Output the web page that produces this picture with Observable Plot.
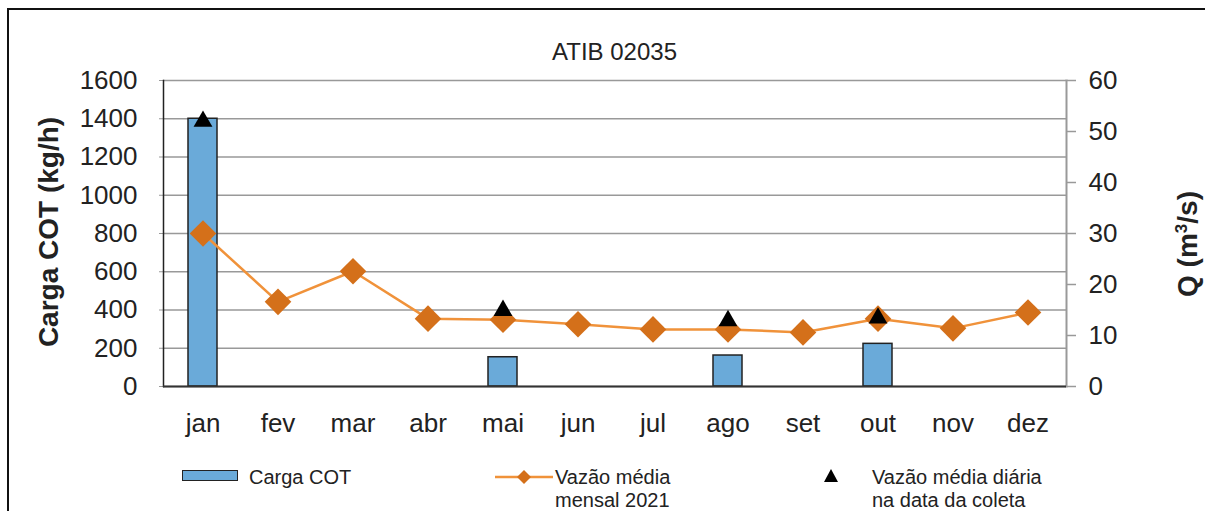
<!DOCTYPE html>
<html>
<head>
<meta charset="utf-8">
<script src="https://cdn.jsdelivr.net/npm/d3@7"></script>
<script src="https://cdn.jsdelivr.net/npm/@observablehq/plot@0.6"></script>
<style>
  html, body { margin: 0; padding: 0; background: #fff; }
  body { width: 1213px; height: 511px; overflow: hidden; position: relative; font-family: "Liberation Sans", Arial, sans-serif; color: #222; }
  #frame { position: absolute; left: 7px; top: 8px; width: 1196px; height: 520px; border-left: 2px solid #111; border-top: 2px solid #111; }
  #chart { position: absolute; left: 0; top: 0; }
  .abs { position: absolute; white-space: nowrap; }
  #title { left: 163px; width: 903px; top: 38px; text-align: center; font-size: 24px; line-height: 28px; }
  .ytitle { font-weight: bold; font-size: 28px; line-height: 32px; transform: translate(-50%, -50%) rotate(-90deg); }
  .leg { font-size: 20px; line-height: 23px; }
</style>
</head>
<body>
<div id="frame"></div>
<div id="chart"></div>
<div id="title" class="abs">ATIB 02035</div>
<div class="abs ytitle" style="left:49px; top:232px;">Carga COT (kg/h)</div>
<div class="abs ytitle" style="left:1188px; top:244px;">Q (m<sup style="font-size:17px; line-height:0">3</sup>/s)</div>
<div id="legend"></div>
<script>
const months = ["jan","fev","mar","abr","mai","jun","jul","ago","set","out","nov","dez"];
const cargaCOT = [1400, null, null, null, 153, null, null, 162, null, 223, null, null];
const vazaoMensal = [30, 16.6, 22.6, 13.3, 13.1, 12.2, 11.2, 11.2, 10.6, 13.3, 11.4, 14.5];
const vazaoDiaria = [52, null, null, null, 14.9, null, null, 12.9, null, 13.4, null, null];
const leftTicks = [0, 200, 400, 600, 800, 1000, 1200, 1400, 1600];
const rightTicks = [0, 10, 20, 30, 40, 50, 60];
const seriesNames = ["Carga COT", "Vazão média\nmensal 2021", "Vazão média diária\nna data da coleta"];

const k = 1600 / 60;
const rows = months.map((m, i) => ({month: m, carga: cargaCOT[i], mensal: vazaoMensal[i], diaria: vazaoDiaria[i]}));

const plot = Plot.plot({
  width: 1213, height: 511,
  marginTop: 80, marginBottom: 125, marginLeft: 163, marginRight: 147,
  x: {domain: months, padding: 0},
  y: {domain: [0, 1600]},
  style: {fontFamily: "'Liberation Sans', Arial, sans-serif", fontSize: "26px", color: "#222", background: "transparent"},
  marks: [
    Plot.gridY(leftTicks, {stroke: "#999", strokeOpacity: 1, strokeWidth: 1.5}),
    Plot.axisY(leftTicks, {anchor: "left", tickSize: 4, tickPadding: 22, label: null, stroke: "#999", fill: "#222", tickFormat: d3.format("d"), fontSize: 26}),
    Plot.axisY(rightTicks.map(q => q * k), {anchor: "right", tickFormat: d => String(Math.round(d / k)), tickSize: 9, tickPadding: 13, label: null, stroke: "#999", strokeWidth: 1.5, fill: "#222", fontSize: 26}),
    Plot.axisX({tickSize: 0, tickPadding: 27, label: null, fill: "#222", fontSize: 26}),
    Plot.frame({anchor: "right", stroke: "#999", strokeWidth: 2}),
    Plot.frame({anchor: "left", stroke: "#222", strokeWidth: 1.5}),
    Plot.barY(rows.filter(d => d.carga != null), {x: "month", y: "carga", fill: "#6aaad9", stroke: "#222", strokeWidth: 1.5, insetLeft: 23, insetRight: 23}),
    Plot.ruleY([0], {stroke: "#333", strokeWidth: 2}),
    Plot.line(rows, {x: "month", y: d => d.mensal * k, stroke: "#f0923a", strokeWidth: 2.5}),
    Plot.dot(rows, {x: "month", y: d => d.mensal * k, symbol: "diamond2", r: 12, fill: "#d4701a", stroke: null}),
    Plot.dot(rows.filter(d => d.diaria != null), {x: "month", y: d => d.diaria * k, symbol: "triangle2", r: 9, fill: "#000", stroke: null})
  ]
});
document.getElementById("chart").appendChild(plot);

// legend
const leg = document.getElementById("legend");
const lines = seriesNames.map(s => s.split("\n").join("<br>"));
leg.innerHTML = `
  <div class="abs" style="left:182px; top:470px; width:54px; height:9px; background:#6aaad9; border:1.5px solid #222;"></div>
  <div class="abs leg" style="left:249px; top:466px;">${lines[0]}</div>
  <svg class="abs" style="left:495px; top:466px;" width="58" height="22">
    <line x1="0" y1="11" x2="58" y2="11" stroke="#f0923a" stroke-width="2.5"/>
    <path d="M29,4 L36,11 L29,18 L22,11 Z" fill="#d4701a"/>
  </svg>
  <div class="abs leg" style="left:555px; top:466px;">${lines[1]}</div>
  <svg class="abs" style="left:823px; top:468px;" width="16" height="16">
    <path d="M8,1 L15,14 L1,14 Z" fill="#000"/>
  </svg>
  <div class="abs leg" style="left:872px; top:466px;">${lines[2]}</div>
`;
</script>
</body>
</html>
